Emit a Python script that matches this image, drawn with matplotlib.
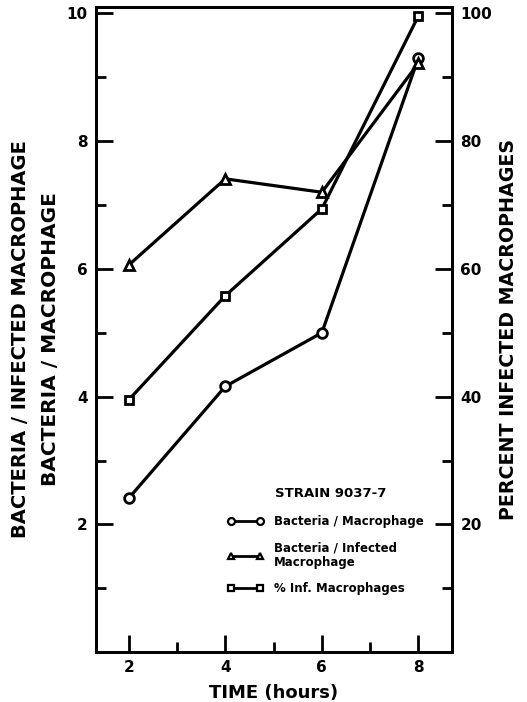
import matplotlib
matplotlib.use("Agg")
import matplotlib.pyplot as plt
from matplotlib.ticker import MultipleLocator

plt.rcParams['font.family'] = ['DejaVu Sans']
plt.rcParams['font.weight'] = 'bold'

# Time points (hours)
hours = [2, 4, 6, 8]
# Left axis series
bact_per_macrophage = [2.41, 4.16, 5.0, 9.3]
bact_per_infected = [6.06, 7.41, 7.2, 9.22]
# Right axis series (%)
pct_infected = [39.5, 55.8, 69.4, 99.6]

x_ticks = [2, 4, 6, 8]
left_ticks = [2, 4, 6, 8, 10]
right_ticks = [20, 40, 60, 80, 100]

fig = plt.figure(figsize=(5.27, 7.02), dpi=100)
ax = fig.add_axes([0.182, 0.071, 0.676, 0.919])
ax2 = ax.twinx()

lw = 2.3
mk = dict(markersize=7, markerfacecolor='white', markeredgecolor='black',
          markeredgewidth=2.0, color='black', linewidth=lw)

l1, = ax.plot(hours, bact_per_macrophage, marker='o', **mk)
l2, = ax.plot(hours, bact_per_infected, marker='^', **mk)
l3, = ax2.plot(hours, pct_infected, marker='s', **{**mk, 'markersize': 6})

ax.set_xlim(1.32, 8.7)
ax.set_ylim(0, 10.1)
ax2.set_ylim(0, 101)

ax.set_xticks(x_ticks)
ax.xaxis.set_minor_locator(MultipleLocator(1))
ax.set_yticks(left_ticks)
ax.yaxis.set_minor_locator(MultipleLocator(1))
ax2.set_yticks(right_ticks)
ax2.yaxis.set_minor_locator(MultipleLocator(10))

for a in (ax, ax2):
    for s in a.spines.values():
        s.set_linewidth(2.0)
    a.tick_params(which='both', direction='in', width=2.0, labelsize=11)
    a.tick_params(which='major', length=12)
    a.tick_params(which='minor', length=7)
ax.tick_params(axis='both', pad=6)
ax2.tick_params(axis='y', pad=6)

for lab in ax.get_xticklabels() + ax.get_yticklabels() + ax2.get_yticklabels():
    lab.set_fontweight('bold')

ax.set_xlabel('TIME (hours)', fontsize=13, fontweight='bold', labelpad=6)
ax2.set_ylabel('PERCENT INFECTED MACROPHAGES', fontsize=13.7, fontweight='bold',
               labelpad=5)

# Two-line left axis label
fig.text(0.038, 0.517, 'BACTERIA / INFECTED MACROPHAGE', rotation=90,
         ha='center', va='center', fontsize=14, fontweight='bold')
fig.text(0.095, 0.517, 'BACTERIA / MACROPHAGE', rotation=90,
         ha='center', va='center', fontsize=14.5, fontweight='bold')

# Legend
ax.text(0.503, 0.2465, 'STRAIN 9037-7', transform=ax.transAxes,
        fontsize=9.5, fontweight='bold', ha='left', va='center')
leg = ax2.legend([l1, l2, l3],
                 ['Bacteria / Macrophage', 'Bacteria / Infected\nMacrophage',
                  '% Inf. Macrophages'],
                 loc='upper left', bbox_to_anchor=(0.34, 0.229),
                 frameon=False, numpoints=2, handlelength=3.0,
                 handletextpad=0.9, labelspacing=1.1,
                 prop={'size': 8.5, 'weight': 'bold'})
for h in leg.legend_handles:
    h.set_linewidth(2.0)
    h.set_markersize(5)
    h.set_markeredgewidth(1.6)

fig.savefig('out.png', dpi=100)
